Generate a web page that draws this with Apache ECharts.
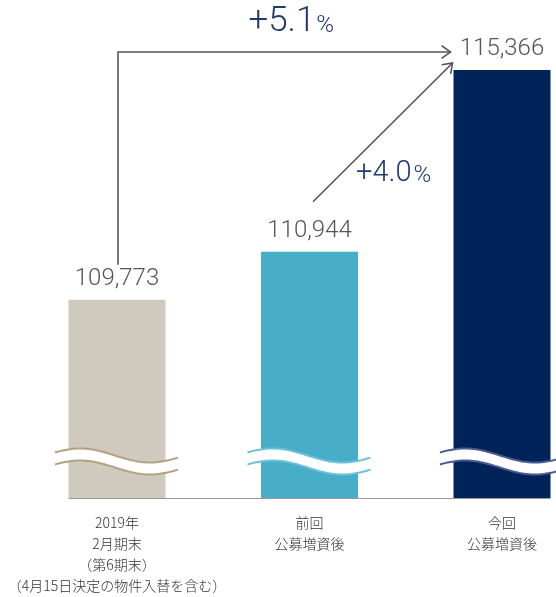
<!DOCTYPE html>
<html>
<head>
<meta charset="utf-8">
<script src="https://cdn.jsdelivr.net/npm/echarts@6/dist/echarts.min.js"></script>
<style>html,body{margin:0;padding:0;background:#fff;}#c{width:556px;height:597px;}</style>
</head>
<body>
<div id="c"></div>
<script>
const categories = ['2019年\n2月期末\n（第6期末）\n（4月15日決定の物件入替を含む）', '前回\n公募増資後', '今回\n公募増資後'];
const values = [109773, 110944, 115366];
const barColors = ['#d0c9bd', '#48adc7', '#00235a'];
const waveEdgeColors = ['#b2a283', '#6cc2d8', '#4a5c92'];

const Y_MIN = 104950, Y_MAX = 116000;
const chart = echarts.init(document.getElementById('c'), null, {renderer: 'canvas'});

function wavePts(cx, by, offset) {
  const pts = [];
  for (let x = cx - 62; x <= cx + 61.01; x += 1.5) {
    const y = by - 42.5 + offset - 7 * Math.sin(2 * Math.PI * (x - (cx - 72)) / 140);
    pts.push([x, y]);
  }
  return pts;
}

function chevron(tip, from, len, ang) {
  const dx = from[0] - tip[0], dy = from[1] - tip[1];
  const d = Math.hypot(dx, dy), ux = dx / d, uy = dy / d;
  const rot = a => [tip[0] + len * (ux * Math.cos(a) - uy * Math.sin(a)), tip[1] + len * (ux * Math.sin(a) + uy * Math.cos(a))];
  return [rot(ang), tip, rot(-ang)];
}

const lineStyle = {stroke: '#555', lineWidth: 1.6, fill: null};
const numFont = 'Roboto, "Noto Sans", sans-serif';
const navy = '#1e3a70';

chart.setOption({
  animation: false,
  grid: {left: 20.75, width: 577.5, top: 44, bottom: 99, outerBoundsMode: 'none', containLabel: false},
  xAxis: {
    type: 'category', data: categories,
    axisLine: {show: false}, axisTick: {show: false},
    axisLabel: {interval: 0, fontSize: 14, lineHeight: 21, color: '#333', margin: 14,
      fontFamily: '"Noto Sans CJK JP", sans-serif', fontWeight: 300}
  },
  yAxis: {type: 'value', min: Y_MIN, max: Y_MAX, show: false, splitLine: {show: false}},
  series: [
    {
      type: 'bar', barWidth: 97, z: 2,
      data: values.map((v, i) => ({value: v, itemStyle: {color: barColors[i]}})),
      label: {show: true, position: 'top', distance: 9, fontSize: 24, color: '#555',
        fontFamily: numFont, fontWeight: 300,
        formatter: p => p.value.toLocaleString('en-US')}
    },
    {
      type: 'custom', z: 3, clip: false,
      data: values.map((v, i) => [i, v]),
      renderItem: (params, api) => {
        const i = api.value(0);
        const base = api.coord([i, Y_MIN]);
        const cx = base[0], by = base[1];
        const top = wavePts(cx, by, 0), bot = wavePts(cx, by, 12);
        const poly = top.concat(bot.slice().reverse());
        return {type: 'group', children: [
          {type: 'polygon', shape: {points: poly}, style: {fill: '#fff', stroke: null}},
          {type: 'polyline', shape: {points: top}, style: {stroke: waveEdgeColors[i], lineWidth: 2, fill: null}},
          {type: 'polyline', shape: {points: bot}, style: {stroke: waveEdgeColors[i], lineWidth: 2, fill: null}}
        ]};
      }
    },
    {
      type: 'custom', z: 4, clip: false,
      data: [[0, values[0]]],
      renderItem: (params, api) => {
        const half = 48.5;
        const b1 = api.coord([0, values[0]]);
        const b2 = api.coord([1, values[1]]);
        const b3 = api.coord([2, values[2]]);
        const left = api.coord([0, Y_MIN]);
        const right = api.coord([2, Y_MIN]);
        const cornerY = b3[1] - 18;
        const p0 = [b1[0] + 1, b1[1] - 35], p1 = [b1[0] + 1, cornerY], p2 = [b3[0] - half - 3, cornerY];
        const s2 = [b2[0] + 3.5, b2[1] - 50], e2 = [b3[0] - half - 1, b3[1] - 7];
        const pct1 = ((values[2] / values[0] - 1) * 100).toFixed(1);
        const pct2 = ((values[2] / values[1] - 1) * 100).toFixed(1);
        return {type: 'group', children: [
          {type: 'line', shape: {x1: left[0] - half, y1: left[1] + 0.5, x2: right[0] + half, y2: right[1] + 0.5},
            style: {stroke: '#9a9a9a', lineWidth: 1}},
          {type: 'polyline', shape: {points: [p0, p1, p2]}, style: lineStyle},
          {type: 'polyline', shape: {points: chevron(p2, p1, 11, 0.62)}, style: lineStyle},
          {type: 'polyline', shape: {points: [s2, e2]}, style: lineStyle},
          {type: 'polyline', shape: {points: chevron(e2, s2, 11, 0.62)}, style: lineStyle},
          {type: 'text', x: (p1[0] + p2[0]) / 2 + 7, y: cornerY - 12,
            style: {text: '{a|+' + pct1 + '}{b|%}', align: 'center', verticalAlign: 'bottom',
              rich: {a: {fontSize: 35, fontFamily: numFont, fontWeight: 300, fill: navy, verticalAlign: 'bottom'},
                     b: {fontSize: 24, fontFamily: numFont, fontWeight: 300, fill: navy, verticalAlign: 'bottom', padding: [0, 0, 2, 1]}}}},
          {type: 'text', x: s2[0] + 43, y: s2[1] - 13,
            style: {text: '{a|+' + pct2 + '}{b|%}', align: 'left', verticalAlign: 'bottom',
              rich: {a: {fontSize: 29, fontFamily: numFont, fontWeight: 300, fill: navy, verticalAlign: 'bottom'},
                     b: {fontSize: 24, fontFamily: numFont, fontWeight: 300, fill: navy, verticalAlign: 'bottom', padding: [0, 0, 1, 2]}}}}
        ]};
      }
    }
  ]
});
</script>
</body>
</html>
